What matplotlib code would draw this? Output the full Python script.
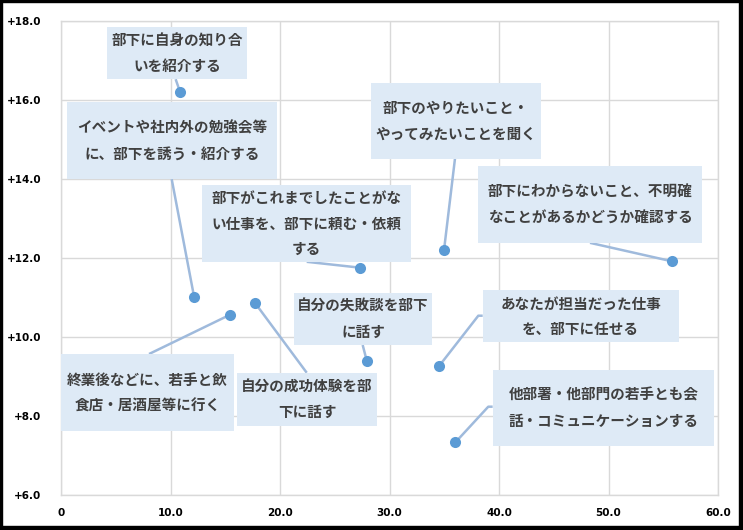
import matplotlib
matplotlib.use("Agg")
import matplotlib.pyplot as plt
from matplotlib.patches import Rectangle

plt.rcParams['font.family'] = ['Noto Sans CJK JP', 'DejaVu Sans']

# ---- data ----
labels = [
    "部下に自身の知り合\nいを紹介する",
    "イベントや社内外の勉強会等\nに、部下を誘う・紹介する",
    "終業後などに、若手と飲\n食店・居酒屋等に行く",
    "自分の成功体験を部\n下に話す",
    "部下がこれまでしたことがな\nい仕事を、部下に頼む・依頼\nする",
    "自分の失敗談を部下\nに話す",
    "部下のやりたいこと・\nやってみたいことを聞く",
    "部下にわからないこと、不明確\nなことがあるかどうか確認する",
    "あなたが担当だった仕事\nを、部下に任せる",
    "他部署・他部門の若手とも会\n話・コミュニケーションする",
]
x_vals = [10.87, 12.15, 15.43, 17.69, 27.35, 27.92, 34.98, 55.83, 34.55, 36.01]
y_vals = [16.20, 11.02, 10.56, 10.87, 11.75, 9.40, 12.20, 11.91, 9.27, 7.33]
x_ticks = [0, 10, 20, 30, 40, 50, 60]
x_tick_labels = ["0", "10.0", "20.0", "30.0", "40.0", "50.0", "60.0"]
y_ticks = [6, 8, 10, 12, 14, 16, 18]
y_tick_labels = ["+6.0", "+8.0", "+10.0", "+12.0", "+14.0", "+16.0", "+18.0"]

# ---- layout of callout boxes (center x, center y, width, height) in data units ----
boxes = [
    (10.60, 17.18, 12.8, 1.32),
    (10.14, 14.97, 19.18, 1.95),
    (7.90, 8.59, 15.8, 1.95),
    (22.47, 8.42, 12.79, 1.35),
    (22.41, 12.87, 19.06, 1.94),
    (27.58, 10.46, 12.6, 1.32),
    (36.06, 15.47, 15.5, 1.92),
    (48.31, 13.35, 20.52, 1.94),
    (47.47, 10.52, 17.93, 1.32),
    (49.53, 8.21, 20.21, 1.93),
]
# leader paths from box edge (list of waypoints), last goes to point
leaders = [
    [(10.47, 16.52)],
    [(10.11, 13.99)],
    [(8.04, 9.567)],
    [(22.44, 9.094)],
    [(22.44, 11.90)],
    [(27.55, 9.795)],
    [(35.98, 14.51)],
    [(48.31, 12.38)],
    [(38.51, 10.536), (38.11, 10.536)],
    [(39.42, 8.234), (39.02, 8.234)],
]

W, H = 743, 530
fig = plt.figure(figsize=(W / 100, H / 100), dpi=100)
ax = fig.add_axes([61 / W, 1 - 495 / H, (718 - 61) / W, (495 - 20.7) / H])

ax.set_xlim(0, 60)
ax.set_ylim(6, 18)
ax.set_xticks(x_ticks)
ax.set_xticklabels(x_tick_labels)
ax.set_yticks(y_ticks)
ax.set_yticklabels(y_tick_labels)
for t in ax.get_xticklabels() + ax.get_yticklabels():
    t.set_fontfamily('DejaVu Sans')
    t.set_fontweight('bold')
    t.set_fontsize(7.5)
    t.set_color('black')
ax.tick_params(length=0, pad=9)
ax.tick_params(axis='y', pad=14)
ax.grid(True, color='#d9d9d9', linewidth=1.0)
ax.set_axisbelow(True)
for s in ax.spines.values():
    s.set_color('#d9d9d9')
    s.set_linewidth(1.0)

line_color = '#9fbadc'
box_color = '#deeaf6'

for (xv, yv), path in zip(zip(x_vals, y_vals), leaders):
    xs = [p[0] for p in path] + [xv]
    ys = [p[1] for p in path] + [yv]
    ax.plot(xs, ys, color=line_color, linewidth=1.8, zorder=2, solid_capstyle='butt')

ax.scatter(x_vals, y_vals, s=64, color='#5b9bd5', zorder=4, linewidths=0)

for (cx, cy, bw, bh), lab in zip(boxes, labels):
    ax.add_patch(Rectangle((cx - bw / 2, cy - bh / 2), bw, bh,
                           facecolor=box_color, edgecolor='none', zorder=3))
    ax.text(cx, cy, lab, ha='center', va='center', multialignment='center',
            fontsize=10.5, fontweight='bold', color='#404040',
            linespacing=1.75, zorder=5)

# outer frame with shadow on right/bottom
fig.patches.append(Rectangle((0, 0), 2 / W, 1, transform=fig.transFigure, color='black', zorder=10))
fig.patches.append(Rectangle((0, 1 - 2 / H), 1, 2 / H, transform=fig.transFigure, color='black', zorder=10))
fig.patches.append(Rectangle((1 - 4 / W, 0), 4 / W, 1, transform=fig.transFigure, color='black', zorder=10))
fig.patches.append(Rectangle((0, 0), 1, 4 / H, transform=fig.transFigure, color='black', zorder=10))

fig.savefig('out.png', dpi=100)
